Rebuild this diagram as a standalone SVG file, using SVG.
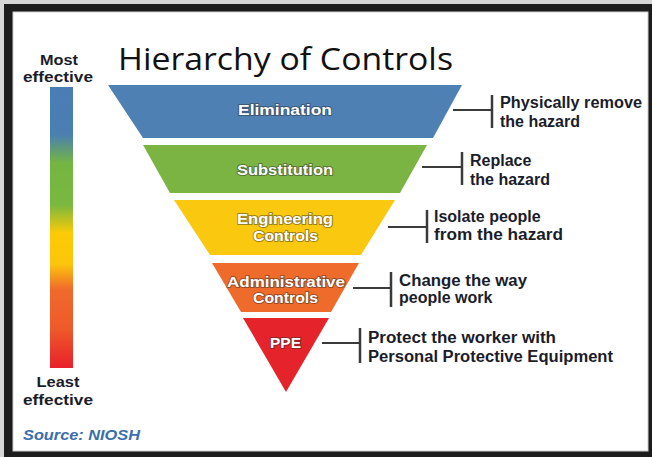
<svg xmlns="http://www.w3.org/2000/svg" width="652" height="457" viewBox="0 0 652 457">
  <defs>
    <linearGradient id="scale" x1="0" y1="0" x2="0" y2="1">
      <stop offset="0" stop-color="#4a7db5"/>
      <stop offset="0.17" stop-color="#4a7fb0"/>
      <stop offset="0.27" stop-color="#74b543"/>
      <stop offset="0.42" stop-color="#7ab83f"/>
      <stop offset="0.52" stop-color="#fbcb06"/>
      <stop offset="0.63" stop-color="#fbc60c"/>
      <stop offset="0.72" stop-color="#f06a2c"/>
      <stop offset="0.86" stop-color="#ee5a2a"/>
      <stop offset="1" stop-color="#e8202a"/>
    </linearGradient>
    <style>
      .band { font-family: "Liberation Sans", Arial, sans-serif; font-weight: bold; font-size: 15px; fill: #ffffff; stroke: rgba(40,40,40,0.45); stroke-width: 2px; paint-order: stroke; stroke-linejoin: round; }
      .desc { font-family: "Liberation Sans", Arial, sans-serif; font-weight: bold; font-size: 16px; fill: #1b1d2a; }
      .side { font-family: "Liberation Sans", Arial, sans-serif; font-weight: bold; font-size: 15px; fill: #1b1d2a; text-anchor: middle; }
      .conn { stroke: #3a3a3a; stroke-width: 2; fill: none; }
      .bar { stroke: #3a3a3a; stroke-width: 2.5; fill: none; }
    </style>
  </defs>

  <!-- frame -->
  <rect x="0" y="0" width="652" height="457" fill="#d6d6d6"/>
  <rect x="4" y="4" width="648" height="453" fill="#1c1c1c"/>
  <rect x="13" y="12" width="635" height="439" fill="#ffffff" stroke="#cfcfcf" stroke-width="1"/>

  <!-- title -->
  <text x="118" y="70" font-family="'Open Sans', 'Liberation Sans', sans-serif" font-size="31" font-weight="500" fill="#111111" textLength="335" lengthAdjust="spacingAndGlyphs">Hierarchy of Controls</text>

  <!-- effectiveness scale -->
  <g id="scale-bar">
    <text class="side" x="59" y="65" textLength="38" lengthAdjust="spacingAndGlyphs">Most</text>
    <text class="side" x="58" y="82" textLength="70" lengthAdjust="spacingAndGlyphs">effective</text>
    <rect x="50" y="87" width="23" height="281" fill="url(#scale)"/>
    <text class="side" x="58" y="387" textLength="43" lengthAdjust="spacingAndGlyphs">Least</text>
    <text class="side" x="58" y="405" textLength="70" lengthAdjust="spacingAndGlyphs">effective</text>
  </g>

  <!-- source -->
  <text x="23" y="440" font-family="'Liberation Sans', Arial, sans-serif" font-weight="bold" font-style="italic" font-size="15" fill="#3a6fac" textLength="117" lengthAdjust="spacingAndGlyphs">Source: NIOSH</text>

  <!-- nodes -->
  <g id="elimination">
    <polygon points="108,85 462,85 433,138 143,138" fill="#4e80b3"/>
    <text class="band" x="238" y="115" textLength="94" lengthAdjust="spacingAndGlyphs">Elimination</text>
  </g>
  <g id="substitution">
    <polygon points="143,145 427,145 400,193 170,193" fill="#7cb443"/>
    <text class="band" x="237" y="175" textLength="96" lengthAdjust="spacingAndGlyphs">Substitution</text>
  </g>
  <g id="engineering">
    <polygon points="174,200 395,200 361,255 210,255" fill="#f9c80f"/>
    <text class="band" x="237" y="224" textLength="96" lengthAdjust="spacingAndGlyphs">Engineering</text>
    <text class="band" x="253" y="241" textLength="65" lengthAdjust="spacingAndGlyphs">Controls</text>
  </g>
  <g id="administrative">
    <polygon points="212,263 359,263 331,312 241,312" fill="#ee6b2b"/>
    <text class="band" x="227" y="287" textLength="118" lengthAdjust="spacingAndGlyphs">Administrative</text>
    <text class="band" x="253" y="303" textLength="65" lengthAdjust="spacingAndGlyphs">Controls</text>
  </g>
  <g id="ppe">
    <polygon points="243,318 329,318 286,392" fill="#e4232a"/>
    <text class="band" x="270" y="348" textLength="31" lengthAdjust="spacingAndGlyphs">PPE</text>
  </g>

  <!-- connectors -->
  <g id="connectors">
    <line class="conn" x1="453" y1="110" x2="492" y2="110"/>
    <line class="bar" x1="492" y1="95" x2="492" y2="128"/>
    <line class="conn" x1="422" y1="167" x2="462" y2="167"/>
    <line class="bar" x1="462" y1="152" x2="462" y2="185"/>
    <line class="conn" x1="388" y1="227" x2="427" y2="227"/>
    <line class="bar" x1="427" y1="210" x2="427" y2="243"/>
    <line class="conn" x1="353" y1="288" x2="391" y2="288"/>
    <line class="bar" x1="391" y1="272" x2="391" y2="307"/>
    <line class="conn" x1="322" y1="343" x2="360" y2="343"/>
    <line class="bar" x1="360" y1="328" x2="360" y2="363"/>
  </g>

  <!-- descriptions -->
  <g id="desc-elimination">
    <text class="desc" x="500" y="108" textLength="142" lengthAdjust="spacingAndGlyphs">Physically remove</text>
    <text class="desc" x="500" y="127">the hazard</text>
  </g>
  <g id="desc-substitution">
    <text class="desc" x="470" y="166">Replace</text>
    <text class="desc" x="470" y="185">the hazard</text>
  </g>
  <g id="desc-engineering">
    <text class="desc" x="434" y="222">Isolate people</text>
    <text class="desc" x="434" y="240" textLength="129" lengthAdjust="spacingAndGlyphs">from the hazard</text>
  </g>
  <g id="desc-administrative">
    <text class="desc" x="399" y="286" textLength="128" lengthAdjust="spacingAndGlyphs">Change the way</text>
    <text class="desc" x="399" y="303">people work</text>
  </g>
  <g id="desc-ppe">
    <text class="desc" x="368" y="343" textLength="188" lengthAdjust="spacingAndGlyphs">Protect the worker with</text>
    <text class="desc" x="368" y="362" textLength="245" lengthAdjust="spacingAndGlyphs">Personal Protective Equipment</text>
  </g>
</svg>
